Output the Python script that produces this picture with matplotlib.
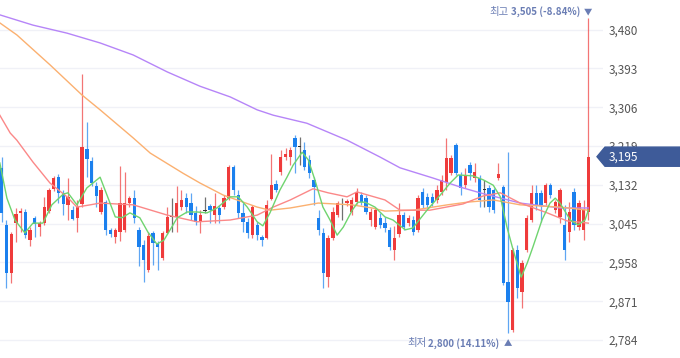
import matplotlib
matplotlib.use('Agg')
import matplotlib.pyplot as plt
import matplotlib.transforms as mtransforms
from matplotlib.patches import Polygon
import numpy as np

plt.rcParams['font.family'] = ['Noto Sans CJK KR', 'DejaVu Sans']

# daily candles, oldest first
opens = [3170, 3042, 2934, 3046, 3069, 3071, 3008, 3058, 3037, 3046,
         3073, 3123, 3149, 3114, 3087, 3075, 3058, 3089, 3212, 3185,
         3129, 3071, 3093, 3031, 3015, 3026, 3031, 3091, 3102, 3031,
         2997, 2941, 3024, 3002, 2968, 3024, 3060, 3060, 3082, 3102,
         3091, 3069, 3049, 3073, 3084, 3064, 3080, 3082, 3102, 3172,
         3109, 3069, 3049, 3019, 3042, 3015, 3013, 3100, 3134, 3161,
         3194, 3194, 3237, 3217, 3210, 3188, 3143, 3058, 3024, 2925,
         3013, 3064, 3093, 3091, 3071, 3093, 3109, 3102, 3053, 3037,
         3058, 3046, 3031, 2986, 3022, 3064, 3046, 3053, 3031, 3116,
         3105, 3105, 3098, 3116, 3138, 3158, 3221, 3154, 3131, 3176,
         3147, 3147, 3120, 3125, 3120, 3147, 3127, 2914, 2806, 2986,
         2892, 2986, 3053, 3114, 3114, 3091, 3131, 3075, 3060, 3042,
         3026, 3116, 3037, 3031, 3071]
highs = [3194, 3053, 3026, 3080, 3080, 3078, 3037, 3062, 3051, 3105,
         3125, 3152, 3156, 3120, 3147, 3084, 3098, 3380, 3273, 3194,
         3138, 3127, 3098, 3035, 3035, 3174, 3161, 3107, 3120, 3037,
         3008, 3026, 3028, 3006, 3028, 3082, 3102, 3129, 3120, 3114,
         3114, 3084, 3075, 3105, 3089, 3114, 3087, 3109, 3176, 3176,
         3120, 3091, 3058, 3087, 3049, 3019, 3098, 3201, 3143, 3210,
         3214, 3217, 3244, 3239, 3228, 3199, 3149, 3075, 3035, 3019,
         3082, 3096, 3102, 3100, 3105, 3125, 3116, 3109, 3080, 3082,
         3069, 3060, 3037, 3040, 3091, 3071, 3064, 3062, 3109, 3125,
         3114, 3114, 3131, 3154, 3237, 3199, 3226, 3161, 3170, 3183,
         3181, 3154, 3143, 3131, 3125, 3181, 3131, 3205, 2990, 2997,
         2963, 3064, 3131, 3131, 3120, 3136, 3136, 3098, 3125, 3087,
         3093, 3125, 3098, 3098, 3505]
lows = [3049, 2901, 2912, 3004, 3026, 3013, 2995, 3015, 3017, 3042,
        3069, 3118, 3091, 3064, 3053, 3053, 3026, 3082, 3149, 3129,
        3082, 3066, 3019, 3015, 3002, 3006, 3026, 3082, 3046, 2950,
        2914, 2936, 2952, 2941, 2963, 3022, 3026, 3026, 3075, 3069,
        3053, 3042, 3024, 3069, 3046, 3046, 3046, 3078, 3098, 3109,
        3058, 3026, 3013, 3013, 3008, 2995, 3011, 3098, 3116, 3154,
        3188, 3176, 3158, 3176, 3165, 3147, 3087, 3019, 2901, 2903,
        3008, 3060, 3053, 3084, 3064, 3089, 3087, 3066, 3040, 3033,
        3035, 3026, 2986, 2963, 3015, 3031, 3040, 3019, 3026, 3080,
        3080, 3084, 3091, 3109, 3120, 3154, 3154, 3109, 3125, 3143,
        3138, 3082, 3082, 3071, 3069, 3143, 2907, 2800, 2802, 2878,
        2856, 2981, 3049, 3075, 3049, 3087, 3102, 3069, 3046, 2963,
        3004, 3031, 3031, 3008, 3053]
closes = [3069, 2934, 3022, 3066, 3073, 3019, 3031, 3044, 3046, 3082,
          3120, 3147, 3114, 3089, 3105, 3055, 3082, 3217, 3190, 3136,
          3107, 3120, 3031, 3022, 3031, 3091, 3091, 3102, 3058, 2993,
          2963, 3017, 3002, 2993, 3024, 3060, 3060, 3091, 3098, 3082,
          3064, 3049, 3064, 3073, 3075, 3084, 3064, 3102, 3172, 3120,
          3069, 3049, 3024, 3082, 3019, 3008, 3087, 3131, 3120, 3194,
          3201, 3210, 3217, 3217, 3172, 3158, 3127, 3031, 2934, 3013,
          3071, 3091, 3093, 3096, 3098, 3116, 3093, 3071, 3071, 3075,
          3042, 3035, 2993, 3013, 3064, 3037, 3058, 3026, 3102, 3087,
          3087, 3091, 3120, 3143, 3192, 3192, 3158, 3125, 3154, 3158,
          3161, 3098, 3120, 3082, 3075, 3156, 2912, 2869, 2986, 2900,
          2957, 3058, 3114, 3087, 3087, 3131, 3109, 3093, 3120, 2986,
          3071, 3042, 3091, 3075, 3195]

# moving averages (candle position, price)
ma5_pos = [-0.4, 1.1, 2.8, 4.9, 6.6, 8.7, 10.6, 13, 14, 15.9, 18, 20.8, 22.5, 24,
           25.4, 27.1, 29.2, 30.9, 32.8, 34.3, 35.6, 37.1, 39.2, 41.3, 43.4, 45.5,
           48.3, 50, 51.9, 54, 55.2, 56.7, 58.8, 60.3, 61.6, 63.5, 64.8, 66.2, 67.9,
           69.4, 70.9, 72.2, 74.1, 75.3, 76.8, 78.9, 81, 82.7, 85.3, 86.9, 89.9,
           92.7, 94.8, 96.5, 99.6, 101.8, 103.9, 105.4, 106.8, 108.1, 109.8, 111.1,
           112.3, 114.2, 115.9, 117, 118, 120.2, 121.8, 123.3, 124]
ma5_val = [3181, 3102, 3053, 3024, 3046, 3046, 3087, 3111, 3114, 3087, 3125, 3149,
           3102, 3060, 3058, 3069, 3058, 3026, 2999, 3008, 3031, 3058, 3071, 3071,
           3069, 3080, 3105, 3105, 3082, 3049, 3040, 3069, 3120, 3149, 3176, 3205,
           3188, 3143, 3082, 3053, 3019, 3037, 3075, 3093, 3093, 3082, 3060, 3053,
           3031, 3035, 3075, 3109, 3136, 3154, 3152, 3143, 3131, 3105, 3037, 2986,
           2925, 2957, 2993, 3053, 3091, 3102, 3091, 3053, 3042, 3053, 3075]
ma20_pos = [-0.4, 1.8, 3.2, 6.6, 10.2, 13.8, 15.9, 18.7, 20.8, 27.8, 35, 41.3, 48.3,
            54, 57.4, 61, 65.8, 69, 73, 75.1, 81, 84.2, 90.5, 97.5, 101.8, 105.4,
            109.6, 115.3, 119.5, 124]
ma20_val = [3288, 3248, 3232, 3183, 3136, 3105, 3082, 3087, 3091, 3087, 3064, 3049,
            3053, 3064, 3082, 3098, 3123, 3114, 3105, 3116, 3098, 3075, 3075, 3089,
            3107, 3114, 3091, 3069, 3051, 3046]
ma60_pos = [-0.4, 3.2, 10.2, 17, 20.8, 27.8, 31.4, 38.3, 41.9, 46.8, 54, 56.7, 61,
            66.9, 74, 78.3, 81, 87, 94.2, 98.4, 103.9, 109.6, 118, 124]
ma60_val = [3495, 3468, 3401, 3333, 3300, 3237, 3203, 3158, 3136, 3109, 3082, 3075,
            3080, 3091, 3087, 3080, 3073, 3075, 3087, 3093, 3098, 3087, 3082, 3075]
ma120_pos = [-0.4, 6.6, 13.8, 20.8, 27.8, 35, 41.9, 48.3, 54, 57.4, 64.5, 73, 80,
             84.2, 91.2, 97.5, 101.1, 109.6, 118, 124]
ma120_val = [3513, 3490, 3472, 3450, 3423, 3385, 3353, 3329, 3300, 3288, 3270, 3232,
             3194, 3170, 3147, 3125, 3114, 3091, 3080, 3080]

price_ticks = [2784, 2871, 2958, 3045, 3132, 3219, 3306, 3393, 3480]
last_price = 3195
high_text = ('최고', '3,505 (-8.84%)')
low_text = ('최저', '2,800 (14.11%)')

RED = '#ef3b3b'
BLUE = '#1b80ee'
DOJI = '#333333'
NOTE = '#6a7db4'
TAG = '#3e5b99'

fig = plt.figure(figsize=(6.8, 3.58), dpi=100)
ax = fig.add_axes([0, 0, 603 / 680, 1])

o = np.array(opens, dtype=float)
h = np.array(highs, dtype=float)
l = np.array(lows, dtype=float)
c = np.array(closes, dtype=float)
x = np.arange(len(o))
cols = np.where(c > o, RED, np.where(c < o, BLUE, DOJI))

ax.vlines(x, l, h, colors=cols, lw=0.9, alpha=0.7, zorder=2)
body = np.maximum(np.abs(c - o), 1.5)
ax.bar(x, body, bottom=np.minimum(o, c), width=0.7, color=cols, lw=0, zorder=2.2)

ax.plot(ma120_pos, ma120_val, color='#b685f8', lw=1, zorder=3)
ax.plot(ma60_pos, ma60_val, color='#fbb070', lw=1, zorder=3)
ax.plot(ma20_pos, ma20_val, color='#fb8888', lw=1, zorder=3)
ax.plot(ma5_pos, ma5_val, color='#6fd46f', lw=1, zorder=3)

ax.set_xlim(-0.36, 127.1)
ax.set_ylim(2743.6, 3546.3)
ax.set_yticks(price_ticks)
ax.set_yticklabels([f'{t:,}' for t in price_ticks])
ax.yaxis.tick_right()
ax.tick_params(axis='y', length=0, pad=4, labelsize=8.5, labelcolor='#555555')
ax.set_xticks([])
ax.grid(axis='y', color='#f0f1f7', lw=1)
ax.set_axisbelow(True)
for s in ax.spines.values():
    s.set_visible(False)

# current price tag on the axis (covers part of the 3,219 label, as in the original)
tr = mtransforms.blended_transform_factory(ax.transAxes, ax.transData)
hh = 21.5
tag = Polygon([(597 / 603, last_price), (605 / 603, last_price + hh), (680 / 603, last_price + hh),
               (680 / 603, last_price - hh), (605 / 603, last_price - hh)],
              closed=True, transform=tr, color=TAG, clip_on=False, zorder=10)
ax.add_patch(tag)
ax.text(609 / 603, last_price, f'{last_price:,}', transform=tr, ha='left', va='center',
        color='white', fontsize=8.5, clip_on=False, zorder=11)


def extreme_note(pos, price, arrow, words):
    tri = ax.text(pos, price, arrow, ha='center', va='center', fontsize=6, color=NOTE, zorder=6)
    num = ax.annotate(words[1], xy=(0, 0.5), xycoords=tri, xytext=(-3, 0), textcoords='offset points',
                      ha='right', va='center', fontsize=7, fontweight='bold', color=NOTE, zorder=6)
    ax.annotate(words[0], xy=(0, 0.5), xycoords=num, xytext=(-1.5, 0), textcoords='offset points',
                ha='right', va='center', fontsize=7.5, color=NOTE, zorder=6)


extreme_note(int(np.argmax(h)), 3520, '▼', high_text)
extreme_note(int(np.argmin(l)), 2777, '▲', low_text)

fig.savefig('out.png', dpi=100)
